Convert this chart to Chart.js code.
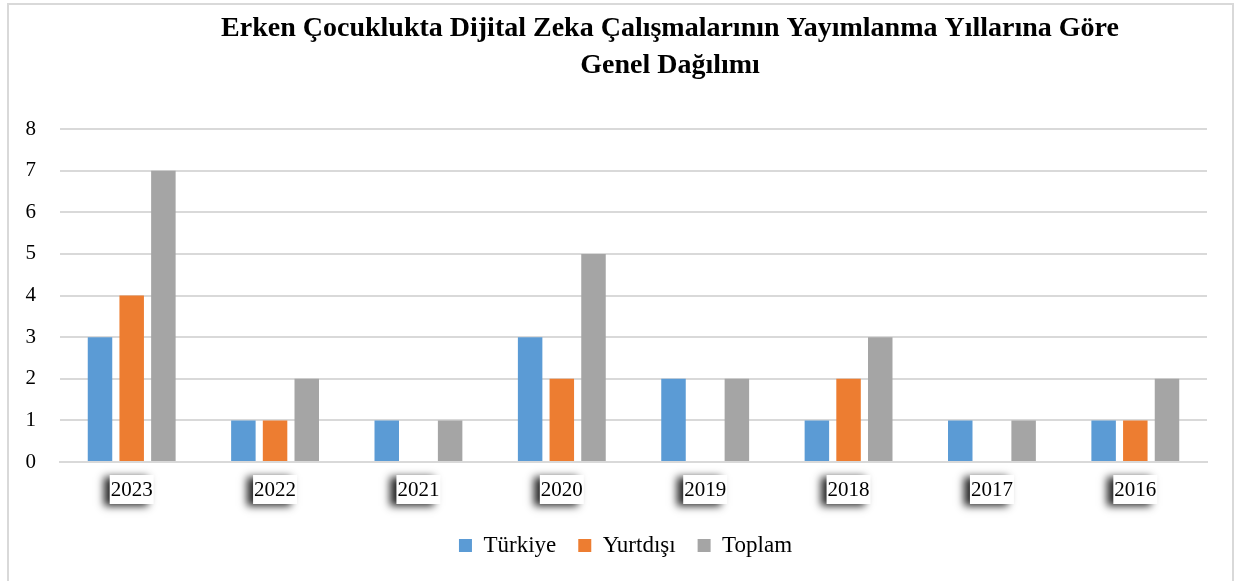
<!DOCTYPE html>
<html>
<head>
<meta charset="utf-8">
<script src="https://cdn.jsdelivr.net/npm/chart.js@4"></script>
<style>
  html, body { margin: 0; padding: 0; background: #ffffff; }
  canvas { display: block; }
</style>
</head>
<body>
<canvas id="bar_years" width="1235" height="581"></canvas>
<script>
// veriler
const years = ['2023', '2022', '2021', '2020', '2019', '2018', '2017', '2016'];
const turkiye = [3, 1, 1, 3, 2, 1, 1, 1];
const yurtdisi = [4, 1, 0, 2, 0, 2, 0, 1];
const toplam = [7, 2, 1, 5, 2, 3, 1, 2];
const titleLines = ['Erken Çocuklukta Dijital Zeka Çalışmalarının Yayımlanma Yıllarına Göre', 'Genel Dağılımı'];

const serif = "'Liberation Serif', 'DejaVu Serif', serif";

// başlık + çerçeve + x etiket kutuları
const decor = {
  id: 'decor',
  afterLayout(chart) {
    // lejantı biraz sağa kaydır
    chart.legend.left += 17;
    chart.legend.right += 17;
  },
  beforeDraw(chart) {
    const ctx = chart.ctx;
    const x = chart.scales.x;
    const top = chart.chartArea.bottom + 13;
    ctx.save();
    ctx.font = '21px ' + serif;
    years.forEach((y, i) => {
      const cx = x.getPixelForTick(i);
      const w = ctx.measureText(y).width + 2;
      ctx.shadowColor = 'rgba(0,0,0,0.85)';
      ctx.shadowBlur = 8;
      ctx.shadowOffsetX = -6;
      ctx.shadowOffsetY = 2;
      ctx.fillStyle = '#ffffff';
      ctx.fillRect(cx - w / 2, top, w, 29);
    });
    ctx.restore();
  },
  afterDraw(chart) {
    const ctx = chart.ctx;
    ctx.save();
    ctx.strokeStyle = '#d9d9d9';
    ctx.lineWidth = 2;
    ctx.strokeRect(8, 4, 1225, 600);
    ctx.fillStyle = '#000000';
    ctx.font = 'bold 28px ' + serif;
    ctx.textAlign = 'center';
    ctx.textBaseline = 'middle';
    ctx.fillText(titleLines[0], 670, 29);
    ctx.fillText(titleLines[1], 670, 66);
    ctx.restore();
  }
};

const ctxYears = document.getElementById('bar_years').getContext('2d');

const cfgYears = {
  type: 'bar',
  data: {
    labels: years,
    datasets: [
      { label: 'Türkiye', data: turkiye, backgroundColor: '#5b9bd5' },
      { label: 'Yurtdışı', data: yurtdisi, backgroundColor: '#ed7d31' },
      { label: 'Toplam', data: toplam, backgroundColor: '#a5a5a5' }
    ]
  },
  options: {
    responsive: false,
    animation: false,
    categoryPercentage: 0.663,
    barPercentage: 0.773,
    layout: {
      padding: { top: 129, left: 10, right: 28, bottom: 14 }
    },
    plugins: {
      title: { display: false },
      tooltip: { enabled: false },
      legend: {
        position: 'bottom',
        labels: {
          color: '#000000',
          font: { family: serif, size: 23 },
          boxWidth: 13,
          boxHeight: 13,
          padding: 22
        }
      }
    },
    scales: {
      x: {
        grid: { display: false, drawTicks: false },
        border: { display: true, color: '#d9d9d9', width: 2 },
        ticks: {
          color: '#000000',
          font: { family: serif, size: 21 },
          padding: 16,
          maxRotation: 0
        },
        afterFit(scale) { scale.height = 50; }
      },
      y: {
        min: 0,
        max: 8,
        grid: { color: '#d9d9d9', lineWidth: 2, drawTicks: false },
        border: { display: false },
        ticks: {
          stepSize: 1,
          color: '#000000',
          font: { family: serif, size: 21 },
          padding: 24
        },
        afterFit(scale) { scale.width = 50; }
      }
    }
  },
  plugins: [decor]
};

// grafiği oluştur
const chartYears = new Chart(ctxYears, cfgYears);
</script>
</body>
</html>
